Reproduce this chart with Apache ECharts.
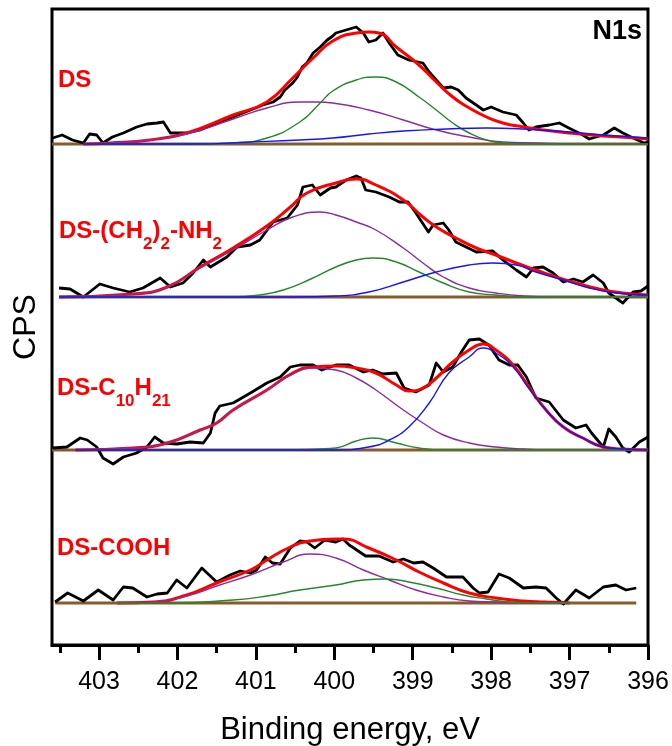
<!DOCTYPE html>
<html>
<head>
<meta charset="utf-8">
<title>N1s XPS spectra</title>
<script src="https://cdn.jsdelivr.net/npm/echarts@6/dist/echarts.min.js"></script>
<style>
  html, body { margin: 0; padding: 0; background: #ffffff; }
  #chart { width: 672px; height: 746px; }
</style>
</head>
<body>
<div id="chart"></div>
<script>
// Binding-energy tick values (eV)
const majorTicks = [403, 402, 401, 400, 399, 398, 397, 396];
const minorTicks = [403.5, 402.5, 401.5, 400.5, 399.5, 398.5, 397.5, 396.5];

// Sample names, top to bottom
const sampleNames = ['DS', 'DS-(CH2)2-NH2', 'DS-C10H21', 'DS-COOH'];
// Vertical stacking offset of each spectrum (arbitrary CPS units)
const stackOffset = [501, 348, 195, 42];
// Energy span of each measured spectrum [start, end]
const dataSpan = [[403.6, 396.0], [403.51, 396.0], [403.6, 396.0], [403.56, 396.15]];

// ---- DS ----
const dsRaw = [[403.59,6],[403.47,9],[403.34,4],[403.20,1],[403.12,10],[403.03,9],[402.95,1],[402.83,7],[402.69,11],[402.52,17],[402.39,20],[402.26,21],[402.18,22],[402.13,16],[402.09,11],[401.88,11],[401.71,14],[401.50,21],[401.29,27],[401.07,34],[400.91,39],[400.78,42],[400.69,47],[400.63,54],[400.53,61],[400.47,67],[400.41,77],[400.35,81],[400.27,91],[400.18,97],[400.09,104],[400.02,108],[399.98,111],[399.85,114],[399.72,117],[399.63,111],[399.56,102],[399.47,104],[399.38,111],[399.30,101],[399.19,89],[399.05,84],[398.87,81],[398.79,72],[398.70,64],[398.61,56],[398.51,57],[398.42,54],[398.32,46],[398.19,39],[398.10,34],[398.00,37],[397.85,32],[397.68,29],[397.59,21],[397.52,14],[397.43,17],[397.26,19],[397.13,21],[397.01,16],[396.83,9],[396.75,5],[396.57,9],[396.43,16],[396.32,11],[396.19,6],[396.05,1],[396.00,2]];
const dsFit = [[403.20,0],[402.86,1],[402.35,4],[401.88,11],[401.29,29],[400.86,42],[400.53,66],[400.27,86],[400.02,103],[399.72,111],[399.56,112],[399.43,111],[399.21,97],[398.92,79],[398.70,62],[398.49,47],[398.28,36],[398.06,27],[397.85,21],[397.59,17],[397.34,14],[397.01,11],[396.57,8],[396.15,6],[396.00,5]];
const dsPeakA = [[403.20,0],[402.86,1],[402.35,4],[401.88,10],[401.29,25],[400.86,36],[400.44,42],[400.22,42],[400.02,41],[399.56,34],[399.12,24],[398.70,14],[398.28,7],[397.85,2],[397.43,1],[397.0,0],[396.0,0]];
const dsPeakB = [[403.20,0],[401.70,0],[401.29,1],[400.86,6],[400.44,22],[400.18,41],[400.02,53],[399.72,64],[399.47,67],[399.21,62],[398.92,47],[398.70,34],[398.49,21],[398.28,11],[398.06,4],[397.85,1],[397.5,0],[396.0,0]];
const dsPeakC = [[403.20,0],[401.80,0],[401.07,2],[400.44,4],[400.02,6],[399.56,10],[399.12,13],[398.57,15],[398.06,16],[397.59,15],[397.01,12],[396.57,9],[396.0,6]];

// ---- DS-(CH2)2-NH2 ----
const nhRaw = [[403.51,9],[403.37,8],[403.20,0],[402.99,13],[402.82,9],[402.61,5],[402.44,9],[402.22,19],[402.09,10],[401.93,14],[401.80,24],[401.67,37],[401.58,30],[401.37,40],[401.24,50],[401.07,52],[400.95,57],[400.78,75],[400.60,79],[400.47,92],[400.40,110],[400.28,112],[400.18,102],[400.05,109],[399.98,110],[399.85,117],[399.72,121],[399.66,119],[399.60,107],[399.47,105],[399.30,100],[399.17,95],[399.06,95],[398.96,84],[398.80,65],[398.74,72],[398.61,74],[398.54,67],[398.45,55],[398.32,50],[398.19,45],[397.98,46],[397.85,37],[397.68,27],[397.55,20],[397.46,29],[397.34,30],[397.21,24],[397.08,15],[396.95,18],[396.83,15],[396.70,22],[396.57,14],[396.50,4],[396.32,-6],[396.19,5],[396.09,6],[396.00,11]];
const nhFit = [[403.51,0],[402.57,3],[402.13,10],[401.71,30],[401.29,49],[400.86,71],[400.56,90],[400.35,104],[399.98,114],[399.72,118],[399.47,112],[399.12,97],[398.87,80],[398.70,70],[398.45,59],[398.19,49],[397.94,42],[397.68,34],[397.43,27],[397.17,20],[396.92,14],[396.57,7],[396.32,4],[396.00,2]];
const nhPeakA = [[403.51,0],[402.57,3],[402.13,10],[401.71,29],[401.29,47],[400.86,67],[400.53,80],[400.18,85],[399.98,82],[399.72,75],[399.47,67],[399.12,49],[398.87,34],[398.61,20],[398.28,9],[397.94,4],[397.59,1],[397.2,0],[396.0,0]];
const nhPeakB = [[403.51,0],[401.3,0],[400.95,2],[400.65,7],[400.30,18],[399.98,30],[399.72,37],[399.51,39],[399.21,35],[398.92,25],[398.61,14],[398.28,5],[397.94,2],[397.59,0],[396.0,0]];
const nhPeakC = [[403.51,0],[400.5,0],[399.98,1],[399.56,5],[399.12,15],[398.70,25],[398.28,32],[397.98,34],[397.68,32],[397.43,25],[397.08,17],[396.75,9],[396.41,4],[396.00,2]];

// ---- DS-C10H21 ----
const c10Raw = [[403.59,2],[403.41,3],[403.24,12],[403.15,10],[403.03,3],[402.95,-8],[402.82,-14],[402.69,-7],[402.52,-3],[402.39,3],[402.29,13],[402.18,7],[402.01,6],[401.84,8],[401.67,7],[401.58,17],[401.52,37],[401.46,44],[401.29,47],[401.07,57],[400.86,67],[400.69,73],[400.56,83],[400.44,85],[400.27,85],[400.16,80],[399.98,85],[399.81,85],[399.63,78],[399.51,80],[399.38,76],[399.21,77],[399.11,62],[398.96,58],[398.79,65],[398.70,87],[398.61,78],[398.49,83],[398.38,98],[398.28,110],[398.15,111],[398.03,105],[397.90,90],[397.77,85],[397.66,85],[397.55,73],[397.43,52],[397.26,48],[397.08,30],[396.92,22],[396.79,25],[396.72,17],[396.57,3],[396.50,21],[396.41,13],[396.32,2],[396.24,-2],[396.11,8],[396.00,13]];
const c10Fit = [[403.30,0],[402.57,2],[402.13,7],[401.71,20],[401.50,27],[401.29,40],[400.86,60],[400.53,77],[400.27,83],[399.98,84],[399.72,82],[399.47,77],[399.21,65],[399.05,59],[398.87,62],[398.70,72],[398.49,88],[398.28,100],[398.10,106],[397.94,100],[397.72,85],[397.52,63],[397.30,40],[397.08,23],[396.83,12],[396.57,3],[396.32,1],[396.00,0]];
const c10PeakA = [[403.30,0],[402.57,2],[402.13,7],[401.71,20],[401.50,27],[401.29,40],[400.86,60],[400.53,76],[400.27,82],[399.98,80],[399.72,72],[399.47,60],[399.12,40],[398.87,27],[398.61,15],[398.28,7],[397.94,3],[397.59,1],[397.2,0],[396.0,0]];
const c10PeakB = [[403.30,0],[400.6,0],[400.2,1],[399.98,2],[399.72,9],[399.51,12],[399.21,7],[398.92,2],[398.6,0],[396.0,0]];
const c10PeakC = [[403.30,0],[400.0,0],[399.56,3],[399.30,10],[399.05,23],[398.79,47],[398.54,77],[398.28,93],[398.10,102],[397.94,97],[397.72,83],[397.52,62],[397.30,40],[397.08,23],[396.83,12],[396.57,3],[396.32,1],[396.0,0]];

// ---- DS-COOH ----
const coohRaw = [[403.56,1],[403.40,10],[403.20,2],[403.01,13],[402.82,3],[402.69,16],[402.57,15],[402.39,6],[402.26,9],[402.13,10],[402.01,23],[401.88,15],[401.69,35],[401.50,21],[401.33,28],[401.20,32],[401.07,30],[400.99,33],[400.88,46],[400.79,40],[400.69,39],[400.56,55],[400.44,62],[400.35,61],[400.25,55],[400.12,63],[399.98,61],[399.89,64],[399.81,58],[399.60,47],[399.43,47],[399.25,41],[399.12,44],[398.99,40],[398.87,41],[398.74,35],[398.57,26],[398.36,26],[398.23,15],[398.15,10],[398.04,11],[397.90,29],[397.77,25],[397.59,15],[397.43,16],[397.30,15],[397.17,5],[397.08,-1],[396.92,13],[396.75,5],[396.57,16],[396.41,18],[396.28,13],[396.15,15]];
const coohFit = [[402.77,0],[402.31,1],[401.88,8],[401.50,20],[401.07,33],[400.86,43],[400.56,56],[400.31,62],[399.98,64],[399.89,64],[399.56,55],[399.21,43],[398.92,31],[398.61,20],[398.28,10],[397.94,5],[397.59,2],[397.3,1],[397.0,0]];
const coohPeakA = [[402.77,0],[402.31,1],[401.88,7],[401.50,17],[401.07,28],[400.65,41],[400.31,49],[399.98,45],[399.63,33],[399.30,23],[398.96,13],[398.61,6],[398.28,2],[397.94,1],[397.59,0],[397.0,0]];
const coohPeakB = [[402.77,0],[402.13,0],[401.29,3],[400.86,7],[400.44,13],[399.98,18],[399.63,23],[399.34,24],[399.05,21],[398.70,15],[398.36,8],[398.06,4],[397.77,1],[397.4,0],[397.0,0]];

const rawSets = [dsRaw, nhRaw, c10Raw, coohRaw];
const fitSets = [dsFit, nhFit, c10Fit, coohFit];
const peakSets = [
  [dsPeakA, dsPeakB, dsPeakC],
  [nhPeakA, nhPeakB, nhPeakC],
  [c10PeakA, c10PeakB, c10PeakC],
  [coohPeakA, coohPeakB]
];

const FONT = '"Liberation Sans", Arial, Helvetica, sans-serif';
const peakColors = ['#8e2a9e', '#23892a', '#1414ff'];

function shift(arr, off) {
  return arr.map(p => [p[0], p[1] + off]);
}

const series = [];
sampleNames.forEach((name, i) => {
  const off = stackOffset[i];
  // background line
  series.push({
    type: 'line', name: name + ' background', silent: true, symbol: 'none',
    data: [[dataSpan[i][0], off], [dataSpan[i][1], off]],
    lineStyle: { color: '#8b5a2b', width: 3 }, z: 1
  });
  // measured spectrum
  series.push({
    type: 'line', name: name, symbol: 'none', data: shift(rawSets[i], off),
    lineStyle: { color: '#000000', width: 2.8, join: 'round' }, z: 2
  });
  // fit envelope
  series.push({
    type: 'line', name: name + ' fit', symbol: 'none', smooth: true,
    data: shift(fitSets[i], off),
    lineStyle: { color: '#ff0000', width: 3 }, z: 3
  });
  // fitted components
  peakSets[i].forEach((pk, k) => {
    series.push({
      type: 'line', name: name + ' peak ' + (k + 1), symbol: 'none', smooth: true,
      data: shift(pk, off),
      lineStyle: { color: peakColors[k], width: 1.4 }, z: 4
    });
  });
});

const labelRich = {
  m: { fontFamily: FONT, fontWeight: 'bold', fontSize: 24, lineHeight: 26, verticalAlign: 'top', fill: '#ff0000', color: '#ff0000' },
  s: { fontFamily: FONT, fontWeight: 'bold', fontSize: 17, lineHeight: 18, padding: [17, 0, 0, 0], verticalAlign: 'top', fill: '#ff0000', color: '#ff0000' }
};
const labelTexts = [
  '{m|DS}',
  '{m|DS-(CH}{s|2}{m|)}{s|2}{m|-NH}{s|2}',
  '{m|DS-C}{s|10}{m|H}{s|21}',
  '{m|DS-COOH}'
];
const labelPos = [[58, 68], [59, 219], [57, 376], [57, 536]];

const graphic = labelTexts.map((t, i) => ({
  type: 'text', left: labelPos[i][0], top: labelPos[i][1], z: 10,
  style: { text: t, rich: labelRich }
}));
graphic.push({
  type: 'text', right: 30, top: 18, z: 10,
  style: { text: 'N1s', font: 'bold 27px ' + FONT, fill: '#000000' }
});

const chart = echarts.init(document.getElementById('chart'), null, { renderer: 'canvas' });
chart.setOption({
  animation: false,
  backgroundColor: '#ffffff',
  grid: {
    left: 52, right: 24, top: 9, bottom: 101,
    outerBoundsMode: 'none', containLabel: false,
    show: true, borderColor: '#000', borderWidth: 3, backgroundColor: 'transparent'
  },
  xAxis: [
    {
      type: 'value', min: 396, max: 403.6, inverse: true, position: 'bottom',
      name: 'Binding energy, eV', nameLocation: 'middle', nameGap: 70,
      nameTextStyle: { fontFamily: FONT, fontSize: 31, color: '#000' },
      axisLine: { show: true, lineStyle: { color: '#000', width: 3 } },
      axisTick: { show: true, inside: false, length: 15, lineStyle: { color: '#000', width: 3 }, customValues: majorTicks },
      axisLabel: { show: true, margin: 25, fontFamily: FONT, fontSize: 25, color: '#000', customValues: majorTicks },
      splitLine: { show: false }
    },
    {
      type: 'value', min: 396, max: 403.6, inverse: true, position: 'bottom',
      axisLine: { show: false },
      axisTick: { show: true, inside: false, length: 8, lineStyle: { color: '#000', width: 3 }, customValues: minorTicks },
      axisLabel: { show: false },
      splitLine: { show: false }
    }
  ],
  yAxis: {
    type: 'value', min: 0, max: 636,
    name: 'CPS', nameLocation: 'middle', nameGap: 10,
    nameTextStyle: { fontFamily: FONT, fontSize: 32, color: '#000' },
    axisLine: { show: false }, axisTick: { show: false }, axisLabel: { show: false }, splitLine: { show: false }
  },
  graphic: graphic,
  series: series
});
</script>
</body>
</html>
